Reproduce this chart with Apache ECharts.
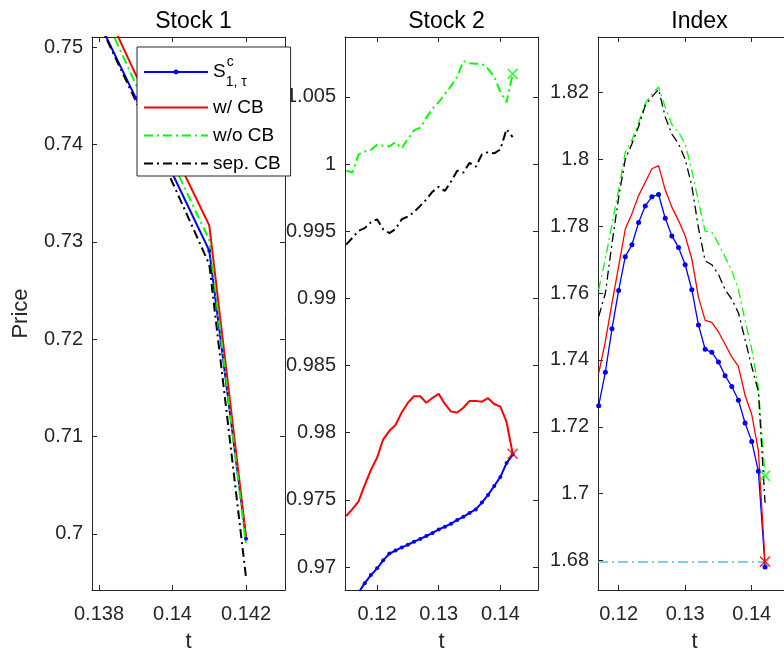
<!DOCTYPE html>
<html>
<head>
<meta charset="utf-8">
<script src="https://cdn.jsdelivr.net/npm/echarts@6/dist/echarts.min.js"></script>
<style>html,body{margin:0;padding:0;background:#fff}#c{width:784px;height:657px}</style>
</head>
<body>
<div id="c"></div>
<script>
// ---------- data ----------
const panelTitles = ['Stock 1', 'Stock 2', 'Index'];
const seriesNames = ['S', 'w/ CB', 'w/o CB', 'sep. CB'];

// Stock 1
const t1 = [0.138, 0.139, 0.140, 0.141, 0.142];
const s1Blue  = [0.7526, 0.7448, 0.7370, 0.7291, 0.6995];
const s1Red   = [0.7553, 0.7472, 0.7395, 0.7317, 0.6997];
const s1Green = [0.7545, 0.7462, 0.7382, 0.7302, 0.6988];
const s1Black = [0.7525, 0.7445, 0.7361, 0.7277, 0.6955];

// Stock 2
const t2 = [0.115, 0.116, 0.117, 0.118, 0.119, 0.120, 0.121, 0.122, 0.123, 0.124,
            0.125, 0.126, 0.127, 0.128, 0.129, 0.130, 0.131, 0.132, 0.133, 0.134,
            0.135, 0.136, 0.137, 0.138, 0.139, 0.140, 0.141, 0.142];
const s2Blue  = [0.9670, 0.9675, 0.9681, 0.9688, 0.9694, 0.9699, 0.9705, 0.9710, 0.97123, 0.97146,
                 0.97166, 0.97189, 0.97209, 0.97231, 0.97254, 0.97280, 0.97300, 0.97323, 0.97351, 0.97374,
                 0.97403, 0.97429, 0.97480, 0.97537, 0.97603, 0.97671, 0.97774, 0.97837];
const s2Red   = [0.97380, 0.97431, 0.97489, 0.97609, 0.97723, 0.97814, 0.97951, 0.98014, 0.98057, 0.98151,
                 0.98223, 0.98271, 0.98271, 0.98223, 0.98260, 0.98289, 0.98214, 0.98157, 0.98151, 0.98186,
                 0.98237, 0.98237, 0.98231, 0.98257, 0.98214, 0.98194, 0.98080, 0.97843];
const s2Green = [0.99951, 0.99937, 1.00071, 1.00094, 1.00106, 1.00143, 1.00137, 1.00131, 1.00163, 1.00117,
                 1.00186, 1.00251, 1.00271, 1.00346, 1.00414, 1.00460, 1.00523, 1.00580, 1.00651, 1.00766,
                 1.00751, 1.00746, 1.00746, 1.00709, 1.00651, 1.00537, 1.00460, 1.00671];
const s2Black = [0.99400, 0.99451, 0.99503, 0.99523, 0.99566, 0.99589, 0.99514, 0.99486, 0.99517, 0.99589,
                 0.99609, 0.99643, 0.99689, 0.99737, 0.99794, 0.99831, 0.99800, 0.99871, 0.99951, 0.99937,
                 1.00009, 0.99980, 1.00071, 1.00089, 1.00080, 1.00109, 1.00260, 1.00200];

// Index
const t3 = [0.117, 0.118, 0.119, 0.120, 0.121, 0.122, 0.123, 0.124, 0.125, 0.126,
            0.127, 0.128, 0.129, 0.130, 0.131, 0.132, 0.133, 0.134, 0.135, 0.136,
            0.137, 0.138, 0.139, 0.140, 0.141, 0.142];
const s3Blue  = [1.72632, 1.73632, 1.74931, 1.76080, 1.77092, 1.77448, 1.78115, 1.78609, 1.78885, 1.78954,
                 1.78241, 1.77713, 1.77368, 1.76851, 1.76103, 1.75046, 1.74322, 1.74230, 1.73943, 1.73529,
                 1.73207, 1.72793, 1.72115, 1.71563, 1.70667, 1.67805];
const s3Red   = [1.7360, 1.7455, 1.7570, 1.7680, 1.7792, 1.7838, 1.7892, 1.79322, 1.79724, 1.79816,
                 1.79092, 1.78575, 1.78172, 1.77713, 1.77023, 1.75874, 1.75184, 1.75127, 1.74839, 1.74471,
                 1.74092, 1.73805, 1.72943, 1.72368, 1.71276, 1.67966];
const s3Green = [1.76103, 1.77023, 1.78057, 1.79092, 1.80218, 1.80586, 1.81103, 1.81678, 1.81966, 1.82172,
                 1.81563, 1.81046, 1.80816, 1.80471, 1.79667, 1.78747, 1.77851, 1.77828, 1.77483, 1.77080,
                 1.76678, 1.76103, 1.75184, 1.74322, 1.73172, 1.70529];
const s3Black = [1.7530, 1.7599, 1.77483, 1.78862, 1.80011, 1.80471, 1.80989, 1.81621, 1.81874, 1.82103,
                 1.81276, 1.80759, 1.80471, 1.80011, 1.79207, 1.77943, 1.76966, 1.76851, 1.76563, 1.76103,
                 1.75816, 1.75414, 1.74609, 1.73805, 1.73057, 1.69724];
const barrierLevel = 1.6795;

// tick values
const xTicks1 = [0.138, 0.140, 0.142];
const yTicks1 = [0.70, 0.71, 0.72, 0.73, 0.74, 0.75];
const xTicks2 = [0.12, 0.13, 0.14];
const yTicks2 = [0.970, 0.975, 0.980, 0.985, 0.990, 0.995, 1.000, 1.005];
const xTicks3 = [0.12, 0.13, 0.14];
const yTicks3 = [1.68, 1.70, 1.72, 1.74, 1.76, 1.78, 1.80, 1.82];

// ---------- layout / style ----------
const FONT = '"Liberation Sans", Arial, Helvetica, sans-serif';
const AX = '#262626';
const COLORS = { blue: '#0000FF', red: '#FF0000', green: '#00FF00', black: '#000000', ref: '#4DBEEE' };
const panels = [
  { left: 92,  xMin: 0.13781, xMax: 0.14306, yMin: 0.69422, yMax: 0.75106, xT: xTicks1, yT: yTicks1, lw: 2,
    t: t1, blue: s1Blue, red: s1Red, green: s1Green, black: s1Black, cross: false },
  { left: 345, xMin: 0.11480, xMax: 0.14610, yMin: 0.96829, yMax: 1.00946, xT: xTicks2, yT: yTicks2, lw: 2,
    t: t2, blue: s2Blue, red: s2Red, green: s2Green, black: s2Black, cross: true },
  { left: 598, xMin: 0.11690, xMax: 0.14590, yMin: 1.67115, yMax: 1.83667, xT: xTicks3, yT: yTicks3, lw: 1.3,
    t: t3, blue: s3Blue, red: s3Red, green: s3Green, black: s3Black, cross: true }
];
const GW = 193, GT = 37, GH = 553;

const fmt = v => String(parseFloat((+v).toFixed(6)));
const zip = (xs, ys) => xs.map((x, i) => [x, ys[i]]);

const grids = [], xAxes = [], yAxes = [], series = [], titles = [];
panels.forEach((p, i) => {
  grids.push({ left: p.left, top: GT, width: GW, height: GH, containLabel: false, outerBoundsMode: 'none' });
  titles.push({ text: panelTitles[i], left: p.left + GW / 2, top: 5, textAlign: 'center',
    textStyle: { fontFamily: FONT, fontSize: 23, fontWeight: 'normal', color: '#000' } });
});
// bottom x axes
panels.forEach((p, i) => {
  xAxes.push({
    type: 'value', gridIndex: i, position: 'bottom', min: p.xMin, max: p.xMax,
    name: 't', nameLocation: 'middle', nameGap: 41,
    nameTextStyle: { fontFamily: FONT, fontSize: 22, color: AX },
    axisLine: { show: true, onZero: false, lineStyle: { color: AX, width: 1 } },
    axisTick: { show: true, inside: true, length: 5, customValues: p.xT, lineStyle: { color: AX } },
    axisLabel: { show: true, customValues: p.xT, formatter: fmt, margin: 14,
      fontFamily: FONT, fontSize: 20, color: AX },
    splitLine: { show: false }
  });
});
// top x axes
panels.forEach((p, i) => {
  xAxes.push({
    type: 'value', gridIndex: i, position: 'top', min: p.xMin, max: p.xMax,
    axisLine: { show: true, onZero: false, lineStyle: { color: AX, width: 1 } },
    axisTick: { show: true, inside: true, length: 5, customValues: p.xT, lineStyle: { color: AX } },
    axisLabel: { show: false }, splitLine: { show: false }
  });
});
// left y axes
panels.forEach((p, i) => {
  yAxes.push({
    type: 'value', gridIndex: i, position: 'left', min: p.yMin, max: p.yMax,
    name: i === 0 ? 'Price' : '', nameLocation: 'middle', nameGap: 60,
    nameTextStyle: { fontFamily: FONT, fontSize: 22, color: AX },
    axisLine: { show: true, onZero: false, lineStyle: { color: AX, width: 1 } },
    axisTick: { show: true, inside: true, length: 5, customValues: p.yT, lineStyle: { color: AX } },
    axisLabel: { show: true, customValues: p.yT, formatter: fmt, margin: 9,
      fontFamily: FONT, fontSize: 20, color: AX },
    splitLine: { show: false }
  });
});
// right y axes
panels.forEach((p, i) => {
  yAxes.push({
    type: 'value', gridIndex: i, position: 'right', min: p.yMin, max: p.yMax,
    axisLine: { show: true, onZero: false, lineStyle: { color: AX, width: 1 } },
    axisTick: { show: true, inside: true, length: 5, customValues: p.yT, lineStyle: { color: AX } },
    axisLabel: { show: false }, splitLine: { show: false }
  });
});

const dashDot = [9, 4, 2, 4];
panels.forEach((p, i) => {
  const base = { type: 'line', xAxisIndex: i, yAxisIndex: i, animation: false, clip: true, z: 3 };
  series.push(Object.assign({}, base, {
    name: seriesNames[0], data: zip(p.t, p.blue), symbol: 'circle', symbolSize: i === 2 ? 5 : 4,
    showSymbol: true, itemStyle: { color: COLORS.blue },
    lineStyle: { color: COLORS.blue, width: p.lw }
  }));
  series.push(Object.assign({}, base, {
    name: seriesNames[1], data: zip(p.t, p.red), symbol: 'none',
    itemStyle: { color: COLORS.red }, lineStyle: { color: COLORS.red, width: p.lw }
  }));
  series.push(Object.assign({}, base, {
    name: seriesNames[2], data: zip(p.t, p.green), symbol: 'none',
    itemStyle: { color: COLORS.green }, lineStyle: { color: COLORS.green, width: p.lw, type: dashDot }
  }));
  series.push(Object.assign({}, base, {
    name: seriesNames[3], data: zip(p.t, p.black), symbol: 'none',
    itemStyle: { color: COLORS.black }, lineStyle: { color: COLORS.black, width: p.lw, type: dashDot }
  }));
  if (p.cross) {
    const n = p.t.length - 1;
    [['green', COLORS.green], ['red', COLORS.red]].forEach(([k, c]) => {
      series.push({
        type: 'scatter', xAxisIndex: i, yAxisIndex: i, animation: false, z: 5,
        symbol: 'path://M0,0L10,10M10,0L0,10', symbolSize: 10,
        itemStyle: { color: 'none', borderColor: c, borderWidth: 1.6 },
        data: [[p.t[n], p[k][n]]], silent: true
      });
    });
  }
});
// barrier reference line in Index panel
series.push({
  type: 'line', xAxisIndex: 2, yAxisIndex: 2, animation: false, symbol: 'none', z: 2,
  data: [[panels[2].xMin, barrierLevel], [t3[t3.length - 1], barrierLevel]],
  lineStyle: { color: COLORS.ref, width: 1.5, type: [10, 4, 2, 4] }
});

const legendData = seriesNames.map((n, k) => k === 0 ? { name: n } : { name: n, itemStyle: { opacity: 0 } });

const chart = echarts.init(document.getElementById('c'), null, { renderer: 'canvas' });
chart.setOption({
  animation: false,
  backgroundColor: '#fff',
  title: titles,
  grid: grids,
  xAxis: xAxes,
  yAxis: yAxes,
  legend: {
    data: legendData, left: 137, top: 47, orient: 'vertical',
    padding: [8, 10, 3, 6], itemWidth: 64, itemHeight: 6, itemGap: 9,
    backgroundColor: '#fff', borderColor: AX, borderWidth: 1, borderRadius: 0,
    selectedMode: false,
    textStyle: {
      fontFamily: FONT, fontSize: 19, color: '#000',
      rich: {
        s: { fontFamily: FONT, fontSize: 19, color: '#000', lineHeight: 34, verticalAlign: 'middle' },
        sup: { fontFamily: FONT, fontSize: 14, color: '#000', verticalAlign: 'top', lineHeight: 14, padding: [0, 0, 0, 1] },
        sub: { fontFamily: FONT, fontSize: 14, color: '#000', verticalAlign: 'bottom', lineHeight: 14, padding: [0, 0, 0, -8] }
      }
    },
    formatter: name => name === 'S' ? '{s|S}{sup|c}{sub|1, τ}' : name
  },
  series: series
});
</script>
</body>
</html>
